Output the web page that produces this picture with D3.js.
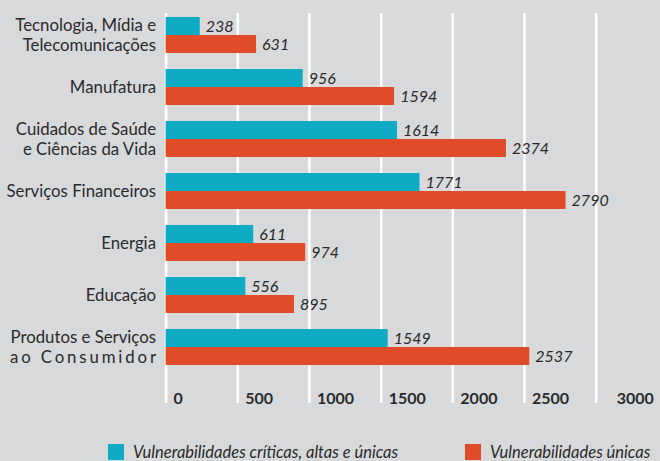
<!DOCTYPE html>
<html>
<head>
<meta charset="utf-8">
<script src="https://cdn.jsdelivr.net/npm/d3@7"></script>
<style>
  body { margin: 0; background: #d8d9db; }
  svg { display: block; font-family: Lato, "Open Sans", sans-serif; }
</style>
</head>
<body>
<div id="chart"></div>
<script>
const width = 660;
const height = 461;

// data
const categories = [
    ["Tecnologia, Mídia e", "Telecomunicações"],
    ["Manufatura"],
    ["Cuidados de Saúde", "e Ciências da Vida"],
    ["Serviços Financeiros"],
    ["Energia"],
    ["Educação"],
    ["Produtos e Serviços", "ao Consumidor"]
];
const critical = [238, 956, 1614, 1771, 611, 556, 1549];
const unique = [631, 1594, 2374, 2790, 974, 895, 2537];
const seriesNames = ["Vulnerabilidades críticas, altas e únicas", "Vulnerabilidades únicas"];
const tickValues = [0, 500, 1000, 1500, 2000, 2500, 3000];

const colors = ["#0fabc4", "#e04c27"];
const textColor = "#2a2a2a";

const svg = d3.select("#chart")
    .append("svg")
        .attr("width", width)
        .attr("height", height)

svg.append("rect")
    .attr("width", width)
    .attr("height", height)
    .attr("fill", "#d8d9db")

const x = d3.scaleLinear()
    .domain([0, 3000])
    .range([165.6, 595.7]);

const y = d3.scaleBand()
    .domain(d3.range(categories.length))
    .range([9, 373])
    .paddingInner(16/52)
    .paddingOuter(8/52);

const ySub = d3.scaleBand()
    .domain([0, 1])
    .range([0, y.bandwidth()]);

// gridlines (white verticals)
const gridTop = 13, gridBottom = 403;
svg.append("g")
    .attr("transform", "translate(0," + gridBottom + ")")
    .call(d3.axisBottom(x).tickValues(tickValues).tickSize(-(gridBottom - gridTop)).tickFormat(""))
    .call(g => g.select(".domain").remove())
    .call(g => g.selectAll("line").attr("stroke", "#ffffff").attr("stroke-width", 2.6))

// tick labels sit right of each gridline
svg.append("g")
    .selectAll("text")
    .data(tickValues)
    .enter()
    .append("text")
        .attr("x", d => x(d) + (d === 3000 ? 21 : 8))
        .attr("y", 404)
        .attr("font-size", 16)
        .attr("font-weight", 700)
        .attr("fill", textColor)
        .text(d => d)

const rows = categories.map((c, i) => ({ i: i, label: c, values: [critical[i], unique[i]] }));

const groups = svg.append("g")
    .selectAll("g")
    .data(rows)
    .enter()
    .append("g")
    .attr("transform", d => "translate(0," + y(d.i) + ")")

groups.selectAll("rect")
    .data(d => d.values.map((v, k) => ({ k: k, v: v })))
    .enter()
    .append("rect")
        .attr("x", x(0))
        .attr("y", d => ySub(d.k))
        .attr("width", d => x(d.v) - x(0))
        .attr("height", ySub.bandwidth())
        .attr("fill", d => colors[d.k])

groups.selectAll(".value")
    .data(d => d.values.map((v, k) => ({ k: k, v: v })))
    .enter()
    .append("text")
        .attr("class", "value")
        .attr("x", d => x(d.v) + 6)
        .attr("y", d => ySub(d.k) + ySub.bandwidth() / 2)
        .attr("dy", "0.36em")
        .attr("font-size", 16)
        .attr("font-style", "italic")
        .attr("fill", textColor)
        .text(d => d.v)

// category labels, right aligned
const labelX = 156;
groups.each(function(d) {
    const g = d3.select(this);
    const n = d.label.length;
    d.label.forEach((line, j) => {
        const t = g.append("text")
            .attr("x", labelX)
            .attr("y", y.bandwidth() / 2 + (j - (n - 1) / 2) * 20)
            .attr("dy", "0.36em")
            .attr("text-anchor", "end")
            .attr("font-size", 16.8)
            .attr("fill", textColor)
            .text(line)
        if (line === "ao Consumidor") {
            t.attr("textLength", 146).attr("lengthAdjust", "spacing")
        }
    })
})

// legend
const legendX = [108, 465];
const legend = svg.append("g")
    .selectAll("g")
    .data(seriesNames)
    .enter()
    .append("g")
    .attr("transform", (d, i) => "translate(" + legendX[i] + ",444)")

legend.append("rect")
    .attr("width", 16)
    .attr("height", 16)
    .attr("fill", (d, i) => colors[i])

legend.append("text")
    .attr("x", 25)
    .attr("y", 14)
    .attr("font-size", 16.5)
    .attr("font-style", "italic")
    .attr("fill", textColor)
    .text(d => d)
</script>
</body>
</html>
